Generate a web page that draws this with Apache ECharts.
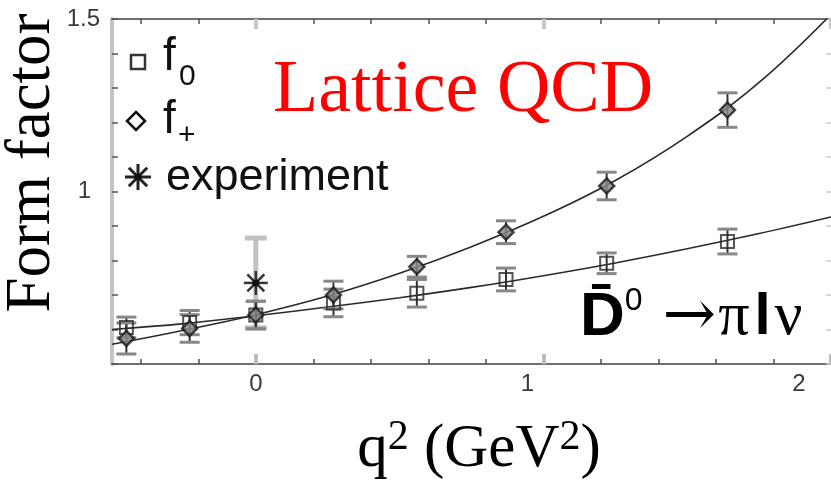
<!DOCTYPE html>
<html>
<head>
<meta charset="utf-8">
<script src="https://cdn.jsdelivr.net/npm/echarts@6/dist/echarts.min.js"></script>
<style>
  html, body { margin: 0; padding: 0; background: #fff; }
  #chart { width: 831px; height: 482px; }
</style>
</head>
<body>
<div id="chart"></div>
<script>
// D0 -> pi l nu form factors: lattice points, fitted curves and experiment
const q2Points     = [-0.45, -0.23, 0, 0.27, 0.56, 0.87, 1.22, 1.64];
const f0Values     = [0.606, 0.620, 0.642, 0.677, 0.705, 0.745, 0.792, 0.855];
const f0Errors     = [0.030, 0.035, 0.040, 0.040, 0.040, 0.033, 0.030, 0.036];
const fPlusValues  = [0.574, 0.603, 0.642, 0.700, 0.782, 0.882, 1.016, 1.236];
const fPlusErrors  = [0.045, 0.040, 0.040, 0.040, 0.030, 0.033, 0.040, 0.050];

const expQ2        = [0];
const expValues    = [0.735];
const expErrors    = [0.13];

// fitted curves through the lattice points
const curveQ2      = [-0.5, -0.25, 0, 0.25, 0.5, 0.75, 1.0, 1.25, 1.5, 1.75, 2.0];
const f0Curve      = [0.600, 0.617, 0.640, 0.665, 0.692, 0.722, 0.756, 0.793, 0.834, 0.878, 0.926];
const fPlusCurve   = [0.557, 0.598, 0.643, 0.697, 0.763, 0.840, 0.928, 1.032, 1.160, 1.316, 1.513];

// axis ticks and labels
const xTicks       = [-0.4, -0.2, 0, 0.2, 0.4, 0.6, 0.8, 1.0, 1.2, 1.4, 1.6, 1.8, 2.0];
const xMajorTicks  = [0, 1, 2];
const xTickLabels  = ['0', '1', '2'];
const yTicks       = [0.5, 0.6, 0.7, 0.8, 0.9, 1.0, 1.1, 1.2, 1.3, 1.4, 1.5];
const yTickLabels  = ['1', '1.5'];

const chart = echarts.init(document.getElementById('chart'), null, { renderer: 'canvas' });

const SANS = 'Liberation Sans';
const SERIF = 'Liberation Serif';
const X_MIN = -0.5, X_MAX = 2, Y_MIN = 0.5, Y_MAX = 1.5;
const LABEL_STEP = 0.5;
const TICK_FONT = { fontFamily: SANS, fontSize: 24, color: '#3a3a3a' };

// label text for a tick value, blank when the value is not listed
const xLabelText = v => {
  const s = String(Math.round(v * 100) / 100);
  if (!xTickLabels.includes(s)) return '';
  return s === '1' ? '{one|1}' : (s === '2' ? '{two|2}' : '{zero|' + s + '}');
};
const yLabelText = v => {
  const s = String(Math.round(v * 100) / 100);
  if (!yTickLabels.includes(s)) return '';
  return s === '1' ? '{one|1}' : '{half|' + s + '}';
};

function errorBars(lineColor, capColor, lineWidth, capWidth, capThick) {
  return function (params, api) {
    const x = api.value(0), y = api.value(1), e = api.value(2);
    const top = api.coord([x, y + e]);
    const bot = api.coord([x, y - e]);
    const hw = capWidth / 2;
    return {
      type: 'group',
      children: [
        { type: 'line', shape: { x1: top[0], y1: top[1], x2: bot[0], y2: bot[1] },
          style: { stroke: lineColor, lineWidth: lineWidth } },
        { type: 'line', shape: { x1: top[0] - hw, y1: top[1], x2: top[0] + hw, y2: top[1] },
          style: { stroke: capColor, lineWidth: capThick } },
        { type: 'line', shape: { x1: bot[0] - hw, y1: bot[1], x2: bot[0] + hw, y2: bot[1] },
          style: { stroke: capColor, lineWidth: capThick } }
      ]
    };
  };
}

function asteriskLines(cx, cy, r, color, width) {
  const out = [];
  for (let k = 0; k < 4; k++) {
    const a = k * Math.PI / 4;
    const dx = Math.cos(a) * r, dy = Math.sin(a) * r;
    out.push({ type: 'line', shape: { x1: cx - dx, y1: cy - dy, x2: cx + dx, y2: cy + dy },
      style: { stroke: color, lineWidth: width } });
  }
  out.push({ type: 'circle', shape: { cx: cx, cy: cy, r: 3.5 }, style: { fill: '#111' } });
  return out;
}

const pairs = (xs, ys) => xs.map((x, i) => [x, ys[i]]);
const triples = (xs, ys, es) => xs.map((x, i) => [x, ys[i], es[i]]);

// extra axes that only carry inward tick marks
const tickOnlyAxis = (pos, min, max, values, len, color, width) => ({
  type: 'value', position: pos, min: min, max: max,
  axisLine: { show: false, onZero: false },
  axisTick: { show: true, inside: true, length: len, customValues: values,
    lineStyle: { color: color, width: width } },
  axisLabel: { show: false },
  splitLine: { show: false }
});

const option = {
  animation: false,
  backgroundColor: '#fff',
  grid: { left: 112, right: -4, top: 19, bottom: 118, containLabel: false },
  xAxis: [
    {
      type: 'value', position: 'bottom', min: X_MIN, max: X_MAX, interval: LABEL_STEP,
      axisLine: { show: true, onZero: false, lineStyle: { color: '#707070', width: 2 } },
      axisTick: { show: false },
      axisLabel: {
        show: true, margin: 8, showMinLabel: true, showMaxLabel: true,
        fontFamily: SANS, fontSize: 24, color: '#3a3a3a',
        formatter: xLabelText,
        rich: {
          zero: Object.assign({}, TICK_FONT),
          one: Object.assign({ padding: [0, 32, 0, 0] }, TICK_FONT),
          two: Object.assign({ padding: [0, 64, 0, 0] }, TICK_FONT)
        }
      },
      splitLine: { show: false }
    },
    {
      type: 'value', position: 'top', min: X_MIN, max: X_MAX,
      axisLine: { show: true, onZero: false, lineStyle: { color: '#707070', width: 2 } },
      axisTick: { show: true, inside: true, length: 5, customValues: xTicks,
        lineStyle: { color: '#505050', width: 1.5 } },
      axisLabel: { show: false },
      splitLine: { show: false }
    },
    tickOnlyAxis('bottom', X_MIN, X_MAX, xTicks, 5, '#505050', 1.5),
    tickOnlyAxis('bottom', X_MIN, X_MAX, xMajorTicks, 10, '#bdbdbd', 4),
    tickOnlyAxis('top', X_MIN, X_MAX, xMajorTicks, 10, '#c8c8c8', 4)
  ],
  yAxis: [
    {
      type: 'value', position: 'left', min: Y_MIN, max: Y_MAX, interval: LABEL_STEP,
      axisLine: { show: true, onZero: false, lineStyle: { color: '#c4c4c4', width: 4 } },
      axisTick: { show: false },
      axisLabel: {
        show: true, margin: 12, showMinLabel: true, showMaxLabel: true,
        fontFamily: SANS, fontSize: 24, color: '#3a3a3a',
        formatter: yLabelText,
        rich: {
          half: Object.assign({}, TICK_FONT),
          one: Object.assign({ padding: [0, 9, 0, 0] }, TICK_FONT)
        }
      },
      splitLine: { show: false }
    },
    tickOnlyAxis('left', Y_MIN, Y_MAX, yTicks, 6, '#555', 1.5),
    tickOnlyAxis('right', Y_MIN, Y_MAX, yTicks, 5, '#cccccc', 1.5)
  ],
  series: [
    {
      name: 'f0 fit', type: 'line', xAxisIndex: 0, yAxisIndex: 0,
      data: pairs(curveQ2, f0Curve), smooth: 0.4, showSymbol: false, symbol: 'none',
      lineStyle: { color: '#2a2a2a', width: 1.6 }, z: 2, clip: true
    },
    {
      name: 'f+ fit', type: 'line', xAxisIndex: 0, yAxisIndex: 0,
      data: pairs(curveQ2, fPlusCurve), smooth: 0.4, showSymbol: false, symbol: 'none',
      lineStyle: { color: '#2a2a2a', width: 1.6 }, z: 2, clip: true
    },
    {
      name: 'f0 errors', type: 'custom', xAxisIndex: 0, yAxisIndex: 0,
      data: triples(q2Points, f0Values, f0Errors),
      renderItem: errorBars('#333', '#888', 2, 20, 3), z: 3, clip: true
    },
    {
      name: 'f+ errors', type: 'custom', xAxisIndex: 0, yAxisIndex: 0,
      data: triples(q2Points, fPlusValues, fPlusErrors),
      renderItem: errorBars('#333', '#888', 2, 20, 3), z: 3, clip: true
    },
    {
      name: 'experiment errors', type: 'custom', xAxisIndex: 0, yAxisIndex: 0,
      data: triples(expQ2, expValues, expErrors),
      renderItem: errorBars('#c2c2c2', '#c2c2c2', 5, 22, 5), z: 1, clip: true
    },
    {
      name: 'f0', type: 'scatter', xAxisIndex: 0, yAxisIndex: 0,
      data: pairs(q2Points, f0Values), symbol: 'rect', symbolSize: 13,
      itemStyle: { color: 'rgba(0,0,0,0)', borderColor: '#2a2a2a', borderWidth: 2 }, z: 4
    },
    {
      name: 'f+', type: 'scatter', xAxisIndex: 0, yAxisIndex: 0,
      data: pairs(q2Points, fPlusValues), symbol: 'diamond', symbolSize: 15,
      itemStyle: { color: '#8a8a8a', borderColor: '#1a1a1a', borderWidth: 2.5 }, z: 5
    },
    {
      name: 'experiment', type: 'custom', xAxisIndex: 0, yAxisIndex: 0,
      data: pairs(expQ2, expValues),
      renderItem: function (params, api) {
        const c = api.coord([api.value(0), api.value(1)]);
        return { type: 'group', children: asteriskLines(c[0], c[1], 12, '#333', 2.5) };
      },
      z: 6
    }
  ],
  graphic: [
    // legend
    { type: 'rect', shape: { x: 131, y: 55, width: 14, height: 14 },
      style: { fill: 'none', stroke: '#333', lineWidth: 2.5 } },
    { type: 'polygon', shape: { points: [[136, 112], [145, 121], [136, 130], [127, 121]] },
      style: { fill: '#fff', stroke: '#111', lineWidth: 2.5 } },
    { type: 'group', children: asteriskLines(138, 177, 13, '#222', 3) },
    { type: 'text', style: { x: 163, y: 80, text: 'f', fontFamily: SANS, fontSize: 46, fill: '#111',
      align: 'left', verticalAlign: 'bottom' } },
    { type: 'text', style: { x: 179, y: 92, text: '0', fontFamily: SANS, fontSize: 30, fill: '#111',
      align: 'left', verticalAlign: 'bottom' } },
    { type: 'text', style: { x: 163, y: 143, text: 'f', fontFamily: SANS, fontSize: 46, fill: '#111',
      align: 'left', verticalAlign: 'bottom' } },
    { type: 'text', style: { x: 178, y: 151, text: '+', fontFamily: SANS, fontSize: 30, fill: '#111',
      align: 'left', verticalAlign: 'bottom' } },
    { type: 'text', style: { x: 166, y: 178, text: 'experiment', fontFamily: SANS, fontSize: 45, fill: '#111',
      align: 'left', verticalAlign: 'middle' } },
    // title inside the plot
    { type: 'text', style: { x: 273, y: 92, text: 'Lattice QCD', fontFamily: SERIF, fontSize: 74,
      fill: '#ff0000', align: 'left', verticalAlign: 'middle' } },
    // decay channel
    { type: 'text', style: {
        x: 580, y: 318, align: 'left', verticalAlign: 'middle',
        text: '{d|D\u0304}{o|0}{ar|\u2192}{g|\u03c0}{l|l}{g|\u03bd}',
        rich: {
          d:  { fontFamily: SANS, fontWeight: 'bold', fontSize: 62, fill: '#000', lineHeight: 66 },
          o:  { fontFamily: SANS, fontSize: 32, fill: '#000', verticalAlign: 'top', lineHeight: 46, padding: [0, 20, 0, 0] },
          ar: { fontFamily: 'DejaVu Serif', fontSize: 64, fill: '#000', lineHeight: 64, padding: [0, 2, 0, 0] },
          g:  { fontFamily: SERIF, fontSize: 62, fill: '#000', lineHeight: 66 },
          l:  { fontFamily: SANS, fontWeight: 'bold', fontSize: 58, fill: '#000', lineHeight: 66, padding: [0, 4, 0, 5] }
        }
      } },
    // axis titles
    { type: 'text', rotation: Math.PI / 2, x: 32, y: 163,
      style: { x: 0, y: 0, text: 'Form factor', fontFamily: SERIF, fontSize: 63, fill: '#000',
        align: 'center', verticalAlign: 'middle' } },
    { type: 'text', style: {
        x: 479, y: 450, align: 'center', verticalAlign: 'middle',
        text: '{n|q}{s|2}{n| (GeV}{s|2}{n|)}',
        rich: {
          n: { fontFamily: SERIF, fontSize: 61, fill: '#000', lineHeight: 66 },
          s: { fontFamily: SERIF, fontSize: 42, fill: '#000', lineHeight: 42, verticalAlign: 'top' }
        }
      } }
  ]
};

chart.setOption(option);
</script>
</body>
</html>
